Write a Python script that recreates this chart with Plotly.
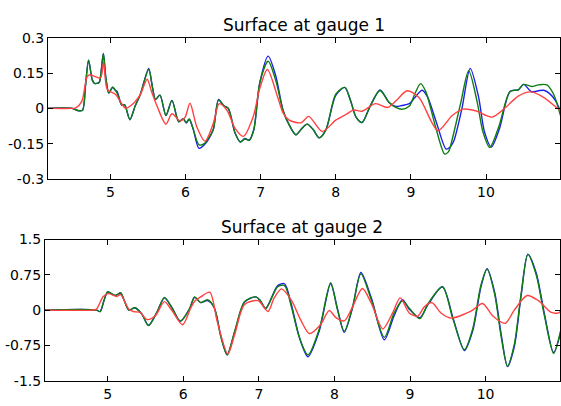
import plotly.graph_objects as go

# ---------------- data: gauge 1 ----------------
g1_blue_x = [4.17, 4.49, 4.58, 4.63, 4.67, 4.71, 4.76, 4.79, 4.85, 4.875, 4.907, 4.94, 4.98, 5.03, 5.07, 5.09,
             5.15, 5.19, 5.26, 5.33, 5.4, 5.51, 5.56, 5.6, 5.66, 5.74, 5.82, 5.91, 5.97, 6.01, 6.05, 6.1,
             6.18, 6.25, 6.3, 6.37, 6.44, 6.51, 6.57, 6.66, 6.73, 6.79, 6.85, 6.91, 6.99, 7.1, 7.2, 7.3,
             7.38, 7.47, 7.55, 7.62, 7.7, 7.78, 7.87, 8.0, 8.12, 8.2, 8.27, 8.35, 8.46, 8.59, 8.71, 8.8,
             8.88, 8.98, 9.05, 9.15, 9.22, 9.34, 9.47, 9.52, 9.57, 9.68, 9.79, 9.9, 9.98, 10.07, 10.18,
             10.32, 10.43, 10.5, 10.61, 10.7, 10.77, 10.84, 10.92, 10.99]
g1_blue_y = [0.0, 0.0, -0.01, -0.008, 0.1, 0.205, 0.12, 0.106, 0.11, 0.15, 0.233, 0.13, 0.065, 0.09, 0.075, 0.072,
             0.015, 0.015, -0.048, 0.01, 0.06, 0.17, 0.09, 0.038, 0.056, -0.03, 0.034, -0.057, -0.044, -0.062, -0.046, -0.085,
             -0.17, -0.155, -0.135, -0.09, 0.038, 0.011, 0.0, -0.105, -0.143, -0.128, -0.135, -0.09, 0.11, 0.222, 0.14, -0.01,
             -0.07, -0.112, -0.085, -0.067, -0.09, -0.125, -0.09, 0.055, 0.089, 0.03, -0.037, -0.06, 0.011, 0.078, 0.025, 0.008,
             0.012, 0.02, 0.045, 0.077, 0.05, -0.06, -0.173, -0.165, -0.14, 0.0, 0.17, 0.05, -0.1, -0.164, -0.085,
             0.072, 0.079, 0.102, 0.07, 0.075, 0.077, 0.065, 0.035, -0.01]

g1_green_x = [4.17, 4.49, 4.58, 4.63, 4.67, 4.71, 4.76, 4.79, 4.85, 4.875, 4.907, 4.94, 4.98, 5.03, 5.09,
              5.15, 5.19, 5.26, 5.33, 5.4, 5.51, 5.56, 5.6, 5.66, 5.74, 5.82, 5.91, 5.97, 6.01, 6.05, 6.1,
              6.18, 6.25, 6.3, 6.37, 6.44, 6.51, 6.57, 6.66, 6.73, 6.79, 6.85, 6.91, 6.99, 7.1, 7.2, 7.3,
              7.38, 7.47, 7.55, 7.62, 7.7, 7.78, 7.87, 8.0, 8.12, 8.2, 8.27, 8.35, 8.46, 8.59, 8.71, 8.8,
              8.88, 8.98, 9.05, 9.13, 9.2, 9.33, 9.45, 9.5, 9.55, 9.66, 9.77, 9.88, 9.96, 10.05, 10.17,
              10.32, 10.43, 10.5, 10.61, 10.7, 10.81, 10.9, 10.99]
g1_green_y = [0.0, 0.0, -0.01, -0.008, 0.1, 0.205, 0.12, 0.106, 0.11, 0.15, 0.233, 0.13, 0.065, 0.09, 0.065,
              0.015, 0.015, -0.048, 0.01, 0.06, 0.165, 0.09, 0.038, 0.056, -0.03, 0.034, -0.057, -0.044, -0.06, -0.045, -0.085,
              -0.155, -0.15, -0.13, -0.09, 0.035, 0.011, 0.0, -0.105, -0.143, -0.13, -0.135, -0.09, 0.11, 0.2, 0.12, -0.01,
              -0.07, -0.112, -0.085, -0.067, -0.09, -0.125, -0.09, 0.06, 0.089, 0.03, -0.037, -0.06, 0.011, 0.076, 0.025, 0.004,
              -0.004, 0.01, 0.06, 0.105, 0.07, -0.08, -0.194, -0.185, -0.132, 0.018, 0.16, 0.031, -0.1, -0.166, -0.078,
              0.072, 0.079, 0.102, 0.093, 0.1, 0.1, 0.06, -0.03]

g1_red_x = [4.17, 4.5, 4.54, 4.62, 4.69, 4.73, 4.8, 4.87, 4.91, 4.96, 5.07, 5.2, 5.27, 5.4, 5.49, 5.55,
            5.62, 5.74, 5.82, 5.93, 5.995, 6.06, 6.15, 6.26, 6.37, 6.45, 6.55, 6.66, 6.77, 6.9, 6.99,
            7.09, 7.23, 7.3, 7.38, 7.54, 7.64, 7.82, 8.0, 8.13, 8.24, 8.35, 8.53, 8.69, 8.82, 8.95,
            9.11, 9.36, 9.55, 9.7, 9.86, 10.08, 10.26, 10.43, 10.59, 10.74, 10.99]
g1_red_y = [0.0, 0.0, 0.002, 0.03, 0.134, 0.143, 0.135, 0.13, 0.195, 0.08, 0.059, 0.001, 0.011, 0.06, 0.124, 0.07,
            0.011, -0.067, -0.023, -0.053, -0.037, 0.022, -0.078, -0.139, -0.064, 0.02, -0.007, -0.085, -0.119, -0.037, 0.086,
            0.165, 0.045, -0.02, -0.05, -0.061, -0.034, -0.098, -0.05, -0.027, -0.007, -0.012, 0.02, 0.004, 0.038, 0.075,
            0.045, -0.094, -0.03, -0.003, -0.01, -0.037, 0.004, 0.052, 0.07, 0.052, -0.01]

# ---------------- data: gauge 2 ----------------
g2_x = [4.17, 4.85, 4.9, 4.95, 5.0, 5.1, 5.17, 5.22, 5.28, 5.36, 5.45, 5.54, 5.65, 5.75, 5.85, 5.96,
        6.08, 6.15, 6.23, 6.32, 6.41, 6.5, 6.58, 6.68, 6.81, 6.96, 7.02, 7.09, 7.25, 7.34, 7.43, 7.54,
        7.65, 7.8, 7.95, 8.04, 8.13, 8.24, 8.35, 8.49, 8.66, 8.79, 8.9, 8.99, 9.13, 9.24, 9.43, 9.57,
        9.72, 9.83, 9.94, 10.02, 10.12, 10.21, 10.29, 10.38, 10.47, 10.56, 10.67, 10.78, 10.9, 10.99]
g2_green_y = [0.0, 0.0, -0.03, 0.2, 0.39, 0.31, 0.37, 0.2, 0.0, 0.05, -0.08, -0.33, -0.05, 0.27, 0.05, -0.24,
              0.02, 0.28, 0.16, 0.22, 0.05, -0.59, -0.95, -0.45, 0.18, 0.28, 0.2, 0.03, 0.5, 0.52, 0.07, -0.6,
              -0.95, -0.4, 0.58, 0.01, -0.45, 0.07, 0.77, 0.21, -0.58, -0.06, 0.2, 0.04, -0.18, 0.14, 0.49, -0.2,
              -0.84, -0.4, 0.54, 0.87, 0.34, -0.6, -1.19, -0.73, 0.34, 1.18, 0.75, -0.13, -0.92, -0.45]
g2_blue_y = [0.0, 0.0, -0.03, 0.2, 0.38, 0.31, 0.36, 0.2, 0.0, 0.05, -0.08, -0.32, -0.05, 0.26, 0.05, -0.23,
             0.02, 0.27, 0.16, 0.2, 0.05, -0.57, -0.95, -0.47, 0.17, 0.28, 0.2, 0.04, 0.52, 0.56, 0.12, -0.6,
             -0.99, -0.44, 0.56, 0.03, -0.47, 0.05, 0.8, 0.25, -0.63, -0.12, 0.22, 0.02, -0.16, 0.12, 0.5, -0.17,
             -0.86, -0.44, 0.5, 0.88, 0.38, -0.55, -1.2, -0.78, 0.3, 1.19, 0.79, -0.09, -0.9, -0.5]

g2_red_x = [4.17, 4.79, 4.85, 4.94, 5.01, 5.12, 5.17, 5.28, 5.34, 5.43, 5.52, 5.63, 5.75, 5.85, 5.99,
            6.1, 6.15, 6.23, 6.35, 6.45, 6.59, 6.68, 6.81, 6.99, 7.12, 7.2, 7.3, 7.43, 7.56, 7.67, 7.82,
            7.93, 8.02, 8.13, 8.24, 8.37, 8.49, 8.64, 8.77, 8.87, 8.99, 9.1, 9.19, 9.29, 9.41, 9.55, 9.74,
            9.83, 9.96, 10.1, 10.26, 10.38, 10.55, 10.7, 10.87, 10.97, 10.99]
g2_red_y = [0.0, 0.0, 0.02, 0.29, 0.35, 0.29, 0.33, 0.02, -0.03, -0.05, -0.2, -0.12, 0.18, -0.01, -0.31,
            0.05, 0.19, 0.28, 0.38, -0.25, -0.93, -0.52, 0.12, 0.2, -0.03, 0.25, 0.45, 0.21, -0.23, -0.5, -0.3,
            -0.01, -0.16, -0.23, 0.07, 0.46, 0.14, -0.4, -0.06, 0.26, -0.06, -0.13, 0.07, 0.16, -0.06, -0.17, -0.07,
            0.0, 0.14, -0.13, -0.28, 0.0, 0.31, 0.2, -0.05, -0.06, -0.02]

titles = ["Surface at gauge 1", "Surface at gauge 2"]
x_ticks = [5, 6, 7, 8, 9, 10]
x_tick_text = ["5", "6", "7", "8", "9", "10"]
y1_ticks = [-0.3, -0.15, 0, 0.15, 0.3]
y1_tick_text = ["-0.3", "-0.15", "0", "0.15", "0.3"]
y2_ticks = [-1.5, -0.75, 0, 0.75, 1.5]
y2_tick_text = ["-1.5", "-0.75", "0", "0.75", "1.5"]
x_range = [4.17, 10.985]

BLUE = "rgb(30,30,235)"
GREEN = "rgb(15,125,15)"
RED = "rgb(255,65,65)"

fig = go.Figure()

def add(x, y, color, xa, ya):
    fig.add_trace(go.Scatter(x=x, y=y, mode="lines", xaxis=xa, yaxis=ya,
                             line=dict(color=color, width=1.4, shape="spline", smoothing=0.8),
                             showlegend=False, hoverinfo="skip"))

add(g1_blue_x, g1_blue_y, BLUE, "x", "y")
add(g1_green_x, g1_green_y, GREEN, "x", "y")
add(g1_red_x, g1_red_y, RED, "x", "y")
add(g2_x, g2_blue_y, BLUE, "x2", "y2")
add(g2_x, g2_green_y, GREEN, "x2", "y2")
add(g2_red_x, g2_red_y, RED, "x2", "y2")

W, H = 561, 406
FONT = "DejaVu Sans"
tickfont = dict(family=FONT, size=14, color="black")
common_axis = dict(showline=True, linecolor="black", linewidth=1, mirror="ticks",
                   ticks="inside", ticklen=5, tickcolor="black", tickwidth=1,
                   showgrid=False, zeroline=False, tickfont=tickfont)

fig.update_layout(
    width=W, height=H,
    margin=dict(l=0, r=0, t=0, b=0),
    paper_bgcolor="white", plot_bgcolor="white",
    xaxis=dict(common_axis, domain=[48 / W, 560 / W], range=x_range, anchor="y",
               tickvals=x_ticks, ticktext=x_tick_text),
    yaxis=dict(common_axis, domain=[1 - 178 / H, 1 - 31 / H], range=[-0.3, 0.3], anchor="x",
               tickvals=y1_ticks, ticktext=y1_tick_text),
    xaxis2=dict(common_axis, domain=[45 / W, 560 / W], range=x_range, anchor="y2",
                tickvals=x_ticks, ticktext=x_tick_text),
    yaxis2=dict(common_axis, domain=[1 - 388 / H, 1 - 241 / H], range=[-1.5, 1.5], anchor="x2",
                tickvals=y2_ticks, ticktext=y2_tick_text),
    annotations=[
        dict(text=titles[0], x=304 / W, y=1 - 18 / H, xref="paper", yref="paper",
             showarrow=False, font=dict(family=FONT, size=17, color="black"),
             xanchor="center", yanchor="middle"),
        dict(text=titles[1], x=302 / W, y=1 - 228 / H, xref="paper", yref="paper",
             showarrow=False, font=dict(family=FONT, size=17, color="black"),
             xanchor="center", yanchor="middle"),
    ],
)

fig.write_html("out.html")
